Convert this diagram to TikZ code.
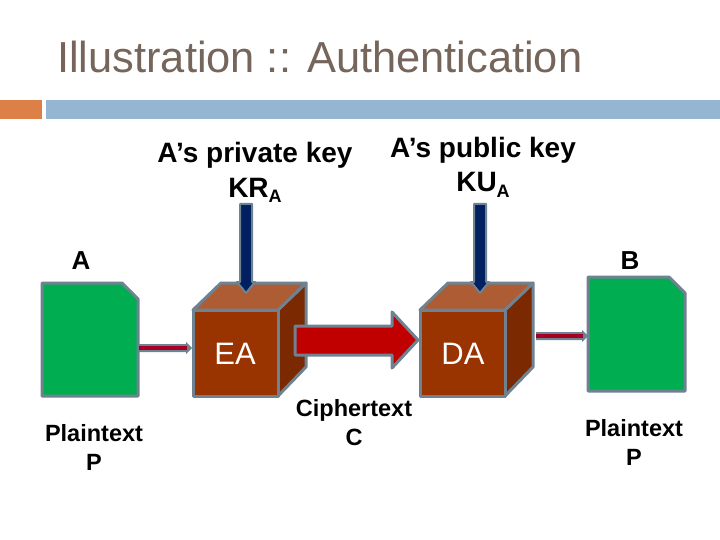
\documentclass[tikz,border=0pt]{standalone}
\usepackage{fontspec}
\setmainfont{Liberation Sans}
\definecolor{titlecol}{HTML}{75655A}
\definecolor{orangebar}{HTML}{DD8047}
\definecolor{bluebar}{HTML}{94B6D2}
\definecolor{edgegrey}{HTML}{6F8292}
\definecolor{docgreen}{HTML}{00AD50}
\definecolor{cubefront}{HTML}{993300}
\definecolor{cubetop}{HTML}{AD5C33}
\definecolor{cubeside}{HTML}{7A2900}
\definecolor{navyarrow}{HTML}{002060}
\definecolor{redarrow}{HTML}{C00000}
\definecolor{thinred}{HTML}{A50021}
\tikzset{
  edged/.style={draw=edgegrey,line width=3pt,line join=round},
  lbl/.style={inner sep=0pt,align=center,text=black,font=\fontsize{23.5}{29}\bfseries},
  keylbl/.style={inner sep=0pt,align=center,text=black,font=\fontsize{28}{34}\bfseries},
  boxlbl/.style={inner sep=0pt,text=white,font=\fontsize{31}{36}\selectfont},
}
\newcommand{\docshape}[5]{% name x0 y0 x1 y1
  \fill[docgreen,edged] (#2,#3) -- ({#4-16},#3) -- (#4,{#3+16}) -- (#4,#5) -- (#2,#5) -- cycle;
  \coordinate (#1 l) at (#2,#3);
}
\newcommand{\cubeshape}[2]{% name x offset
  \fill[cubeside,edged] ({#2+85},310) -- ({#2+113},283) -- ({#2+113},367) -- ({#2+85},396) -- cycle;
  \fill[cubetop,edged] (#2,310) -- ({#2+28},283) -- ({#2+113},283) -- ({#2+85},310) -- cycle;
  \fill[cubefront,edged] (#2,310) rectangle ({#2+85},396);
}
\newcommand{\keyarrow}[3]{% cx top tip
  \fill[navyarrow,draw=edgegrey,line width=2pt,line join=round]
    ({#1-6},#2) -- ({#1+6},#2) -- ({#1+6},{#3-11}) -- ({#1+9},{#3-11}) -- (#1,#3)
    -- ({#1-9},{#3-11}) -- ({#1-6},{#3-11}) -- cycle;
}
\newcommand{\thinarr}[3]{% x0 x1 y
  \fill[edgegrey] (#1,{#3-4}) -- ({#2-6},{#3-4}) -- ({#2-6},{#3-6}) -- (#2,#3) -- ({#2-6},{#3+6}) -- ({#2-6},{#3+4}) -- (#1,{#3+4}) -- cycle;
  \fill[thinred] (#1,{#3-2}) rectangle ({#2-5},{#3+2});
}
\begin{document}
\begin{tikzpicture}[x=1pt,y=-1pt]
\useasboundingbox (0,0) rectangle (720,540);
\fill[white] (0,0) rectangle (720,540);
\node[inner sep=0pt,anchor=base west,text=titlecol,font=\fontsize{43.4}{48}\selectfont] (title) at (57,73) {Illustration :: Authentication};
\fill[orangebar] (0,100) rectangle (42,119);
\fill[bluebar] (46,100) rectangle (720,119);

\node[keylbl,anchor=base] (priv) at (255,197) {A’s private key\\KR\raisebox{-0.2em}{\fontsize{18}{20}\bfseries A}};
\node[keylbl,anchor=base] (pub) at (483,192) {A’s public key\\KU\raisebox{-0.2em}{\fontsize{18}{20}\bfseries A}};
\node[keylbl,font=\fontsize{26}{30}\bfseries] (a) at (81,261) {A};
\node[keylbl,font=\fontsize{26}{30}\bfseries] (b) at (630,261) {B};

\docshape{docl}{42}{283}{138}{396}
\docshape{docr}{588}{277}{685}{391}

\cubeshape{ea}{193}
\cubeshape{da}{420}
\node[boxlbl] (ealbl) at (235,354) {EA};
\node[boxlbl] (dalbl) at (463,354) {DA};

\keyarrow{246}{204}{293}
\keyarrow{480}{204}{293}

\fill[redarrow,edged] (295,326) -- (392,326) -- (392,312) -- (418,340) -- (392,368) -- (392,355) -- (295,355) -- cycle;

\thinarr{139}{192}{348}
\thinarr{536}{588}{336}

\node[lbl,anchor=base] (pl) at (94,470) {Plaintext\\P};
\node[lbl,anchor=base] (ct) at (354,445) {Ciphertext\\C};
\node[lbl,anchor=base] (pr) at (634,465) {Plaintext\\P};
\end{tikzpicture}
\end{document}
